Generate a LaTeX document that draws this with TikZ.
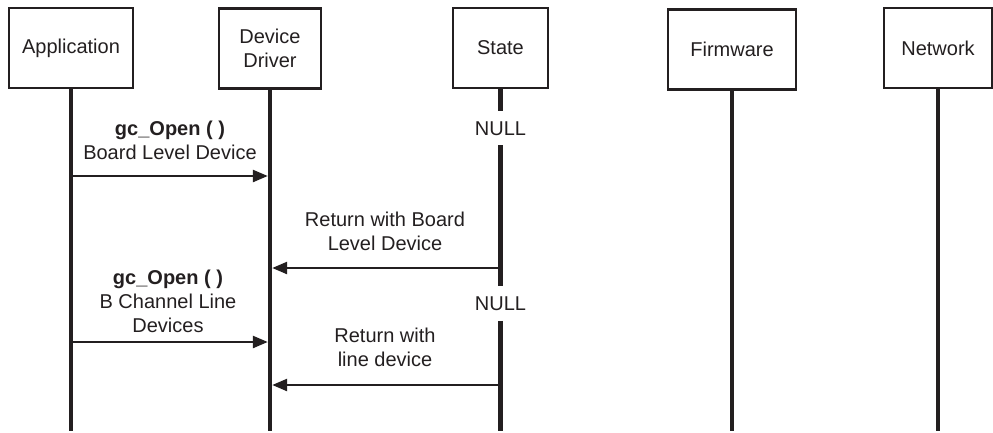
\documentclass[tikz,border=0pt]{standalone}
\usepackage{fontspec}
\setmainfont{Liberation Sans}
\usetikzlibrary{arrows.meta}
\definecolor{ink}{HTML}{231F20}
\begin{document}
\begin{tikzpicture}[x=1pt, y=-1pt,
    every node/.style={font=\fontsize{20}{24}\selectfont, text=ink},
    actor/.style={draw=ink, line width=2.5pt, minimum width=#1, minimum height=80pt, inner sep=0pt, align=center},
    lifeline/.style={draw=ink, line width=4.5pt},
    msg/.style={draw=ink, line width=2.5pt, shorten >=2.2pt, -{Triangle[length=15pt, width=12pt]}},
    nullmark/.style={inner xsep=2pt, inner ysep=10pt, text height=14.5pt, text depth=0pt},
    note/.style={align=center, inner sep=0pt}]
    \useasboundingbox (0,0) rectangle (993,432);

    \node[actor=124pt] (app) at (71,48) {Application};
    \node[actor=102pt] (drv) at (270,48.5) {Device\\Driver};
    \node[actor=95pt] (st) at (500.5,48) {State};
    \node[actor=128pt] (fw) at (732,49.5) {Firmware};
    \node[actor=108pt] (net) at (938,48) {Network};

    \coordinate (appEnd) at (71,431);
    \coordinate (drvEnd) at (270,431);
    \coordinate (stEnd) at (500.5,431);
    \coordinate (fwEnd) at (732,431);
    \coordinate (netEnd) at (938,431);

    \node[nullmark] (null1) at (500.5,128) {NULL};
    \node[nullmark] (null2) at (500.5,303.5) {NULL};

    \draw[lifeline] (app) -- (appEnd);
    \draw[lifeline] (drv) -- (drvEnd);
    \draw[lifeline] (st) -- (null1);
    \draw[lifeline] (null1) -- (null2);
    \draw[lifeline] (null2) -- (stEnd);
    \draw[lifeline] (fw) -- (fwEnd);
    \draw[lifeline] (net) -- (netEnd);

    % messages
    \coordinate (app1) at (71,176);
    \coordinate (drv1) at (270,176);
    \draw[msg] (app1) -- (drv1);
    \node[note] (open1) at (170,140) {\textbf{gc\_Open ( )}\\Board Level Device};

    \coordinate (st2) at (500.5,268);
    \coordinate (drv2) at (270,268);
    \draw[msg] (st2) -- (drv2);
    \node[note] (ret1) at (385,231.5) {Return with Board\\Level Device};

    \coordinate (app3) at (71,342);
    \coordinate (drv3) at (270,342);
    \draw[msg] (app3) -- (drv3);
    \node[note] (open2) at (168,301) {\textbf{gc\_Open ( )}\\B Channel Line\\Devices};

    \coordinate (st4) at (500.5,385);
    \coordinate (drv4) at (270,385);
    \draw[msg] (st4) -- (drv4);
    \node[note] (ret2) at (385,347.5) {Return with\\line device};
\end{tikzpicture}
\end{document}
